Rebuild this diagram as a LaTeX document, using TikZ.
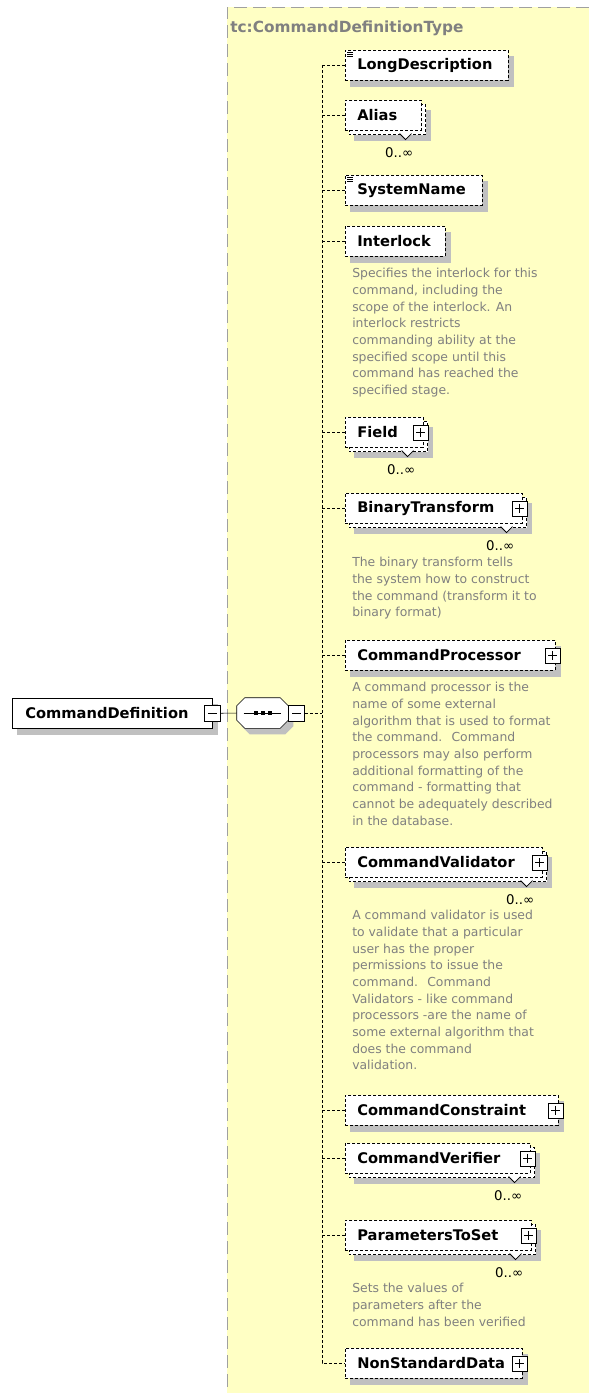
\documentclass[tikz,border=0pt]{standalone}
\usepackage{fontspec}
\setmainfont{DejaVu Sans}
\usetikzlibrary{calc}

\definecolor{xsyellow}{RGB}{255,255,196}
\definecolor{xsshadow}{RGB}{192,192,192}
\definecolor{xsgray}{RGB}{128,128,128}
\definecolor{xsborder}{RGB}{160,160,160}

\newcommand\lblfont{\fontsize{11}{13}\selectfont\bfseries}
\newcommand\descfont{\fontsize{9.3}{12.5}\selectfont}

\pgfdeclarelayer{back}
\pgfdeclarelayer{shade}
\pgfsetlayers{back,shade,main}

\tikzset{
  elem/.style={draw, fill=white, dash pattern=on 2.25pt off 1.5pt, font=\lblfont,
    inner xsep=9pt, inner ysep=0pt, minimum height=22.5pt, anchor=north west, align=left},
  rootbox/.style={elem, solid, inner xsep=9.75pt},
  backbox/.style={draw, fill=white, dash pattern=on 2.25pt off 1.5pt},
  conn/.style={dash pattern=on 2.25pt off 1.5pt},
  seqbox/.style={inner sep=0pt, minimum width=38.25pt, minimum height=22.5pt},
  pmbox/.style={draw, solid, fill=white, minimum size=11.25pt, inner sep=0pt},
  minusbox/.style={pmbox, minimum size=12pt, path picture={
    \draw ($(path picture bounding box.west)!0.22!(path picture bounding box.east)$) --
          ($(path picture bounding box.west)!0.78!(path picture bounding box.east)$);}},
  plusbox/.style={pmbox, path picture={
    \draw ($(path picture bounding box.west)!0.2!(path picture bounding box.east)$) --
          ($(path picture bounding box.west)!0.8!(path picture bounding box.east)$)
          ($(path picture bounding box.north)!0.2!(path picture bounding box.south)$) --
          ($(path picture bounding box.north)!0.8!(path picture bounding box.south)$);}},
  desc/.style={anchor=north west, inner sep=0pt, align=left, text=xsgray, font=\descfont},
  mult/.style={anchor=east, inner sep=0pt, font=\fontsize{10}{12}\selectfont},
}

\begin{document}
\begin{tikzpicture}[x=0.75pt,y=0.75pt,yscale=-1,xscale=1,line width=0.75pt]
\useasboundingbox (0,0) rectangle (589,1393);

%Shape: Type box
\begin{pgfonlayer}{back}
\fill[xsyellow] (227,7) rectangle (589,1393);
\draw[xsborder, dash pattern=on 9.75pt off 4.5pt] (589,7) -- (227,7) -- (227,1393);
\end{pgfonlayer}
% Text Node
\node (ttl) [anchor=base west, inner sep=0pt, text=xsgray, font=\fontsize{11.5}{13}\selectfont\bfseries] at (230,32) {tc:CommandDefinitionType};

% Root and sequence
\node (cd) [rootbox, text width=130.5pt] at (12,698) {CommandDefinition};
\node (cd-m) [minusbox] at (cd.east) {};
\node (seq) [seqbox] at (262.5,713) {};
\begin{pgfonlayer}{shade}
\fill[xsshadow] ($(seq.north west)+(13,6)$) -- ($(seq.north east)+(-3,6)$) -- ($(seq.north east)+(5,14)$) -- ($(seq.south east)+(5,-2)$)
  -- ($(seq.south east)+(-3,6)$) -- ($(seq.south west)+(13,6)$) -- ($(seq.south west)+(5,-2)$) -- ($(seq.north west)+(5,14)$) -- cycle;
\end{pgfonlayer}
\filldraw[fill=white] ($(seq.north west)+(8,0)$) -- ($(seq.north east)+(-8,0)$) -- ($(seq.north east)+(0,8)$) -- ($(seq.south east)+(0,-8)$)
  -- ($(seq.south east)+(-8,0)$) -- ($(seq.south west)+(8,0)$) -- ($(seq.south west)+(0,-8)$) -- ($(seq.north west)+(0,8)$) -- cycle;
\node (seq-m) [minusbox, anchor=west] at (seq.east) {};
\draw ($(seq.west)+(7,0)$) -- ($(seq.east)+(-7,0)$);
\foreach \d in {-7,0,7} \fill ($(seq.center)+(\d,0)+(-2,-2)$) rectangle ++(4,4);
\draw (cd-m.east) -- (seq.west);
\coordinate (spine) at (322,713);
\draw[conn] (seq-m.east) -- (spine);

% Elements
\node (ld) [elem, text width=104.25pt] at (345,50) {LongDescription};
\node (al) [elem, text width=39pt] at (345,100) {Alias};
\node (sn) [elem, text width=84.75pt] at (345,175) {SystemName};
\node (il) [elem, text width=57pt] at (345,226) {Interlock};
\node (fd) [elem, text width=40.5pt] at (345,417) {Field};
\node (bt) [elem, text width=114.75pt] at (345,493) {BinaryTransform};
\node (cp) [elem, text width=139.5pt] at (345,640) {CommandProcessor};
\node (cv) [elem, text width=129.75pt] at (345,847) {CommandValidator};
\node (cc) [elem, text width=141.75pt] at (345,1095) {CommandConstraint};
\node (cvf) [elem, text width=120.75pt] at (345,1143) {CommandVerifier};
\node (pts) [elem, text width=121.5pt] at (345,1220) {ParametersToSet};
\node (nsd) [elem, text width=114.75pt] at (345,1348) {NonStandardData};

% Shadows and repeated boxes
\begin{pgfonlayer}{shade}
\foreach \n in {cd,ld,sn,il,cp,cc,nsd}
  \fill[xsshadow] ($(\n.north west)+(5,6)$) rectangle ($(\n.south east)+(5,6)$);
\foreach \n in {al,fd,bt,cv,cvf,pts} {
  \fill[xsshadow] ($(\n.north west)+(9,10)$) rectangle ($(\n.south east)+(9,10)$);
  \draw[backbox] ($(\n.north west)+(4,4)$) rectangle ($(\n.south east)+(4,4)$);
}
\end{pgfonlayer}
\foreach \n in {al,fd,bt,cv,cvf,pts} {
  \filldraw[fill=white, line width=0.6pt] ($(\n.south east)+(-22,3)$) -- ($(\n.south east)+(-16,9)$) -- ($(\n.south east)+(-10,3)$);
  \node (\n-n) [mult] at ($(\n.south east)+(-8,22)$) {0..∞};
}
\foreach \n in {ld,sn}
  \draw[line width=0.6pt] ($(\n.north west)+(2,2)$) -- ++(6,0) ($(\n.north west)+(2,4)$) -- ++(6,0) ($(\n.north west)+(2,6)$) -- ++(6,0);
\foreach \n in {fd,bt,cp,cv,cc,cvf,pts,nsd}
  \node (\n-p) [plusbox] at ($(\n.east)+(-3,0)$) {};

% Connectors
\draw[conn] (ld.west -| spine) |- (nsd.west);
\foreach \n in {ld,al,sn,il,fd,bt,cp,cv,cc,cvf,pts}
  \draw[conn] (\n.west -| spine) -- (\n.west);

% Text Node
\node (il-d) [desc] at (352,268) {Specifies the interlock for this\\command, including the\\scope of the interlock. An\\interlock restricts\\commanding ability at the\\specified scope until this\\command has reached the\\specified stage.};
\node (bt-d) [desc] at (352,557) {The binary transform tells\\the system how to construct\\the command (transform it to\\binary format)};
\node (cp-d) [desc] at (352,682) {A command processor is the\\name of some external\\algorithm that is used to format\\the command.~ Command\\processors may also perform\\additional formatting of the\\command - formatting that\\cannot be adequately described\\in the database.};
\node (cv-d) [desc] at (352,910) {A command validator is used\\to validate that a particular\\user has the proper\\permissions to issue the\\command.~ Command\\Validators - like command\\processors -are the name of\\some external algorithm that\\does the command\\validation.};
\node (pts-d) [desc] at (352,1283) {Sets the values of\\parameters after the\\command has been verified};

\end{tikzpicture}
\end{document}
